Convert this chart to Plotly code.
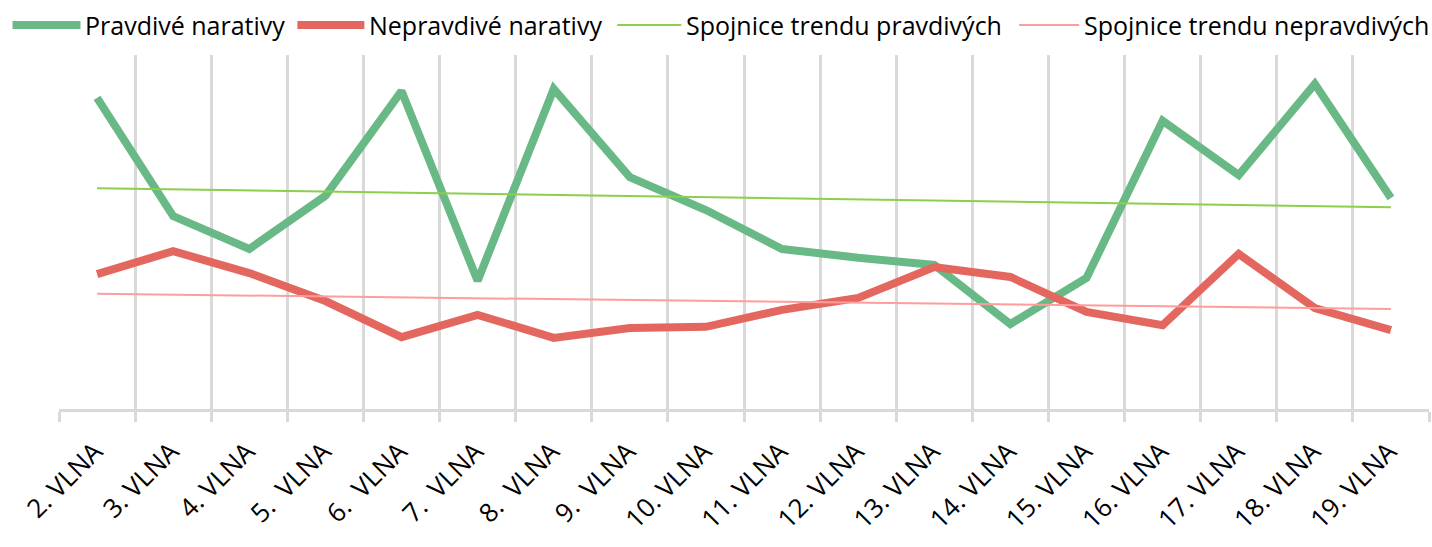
import numpy as np
import plotly.graph_objects as go

NB = "\u00a0"
categories = ["2. VLNA", "3. VLNA", "4. VLNA", "5." + NB * 2 + "VLNA", "6." + NB * 2 + "VLNA",
              "7." + NB * 2 + "VLNA", "8." + NB * 2 + "VLNA", "9." + NB * 2 + "VLNA",
              "10. VLNA", "11. VLNA", "12. VLNA", "13. VLNA", "14. VLNA", "15. VLNA",
              "16. VLNA", "17. VLNA", "18. VLNA", "19. VLNA"]
pravdive = [87.9, 54.5, 45.2, 60.2, 89.8, 36.2, 90.4, 65.5, 56.2, 45.2, 42.7, 40.7, 24.0, 37.0, 81.4, 66.1, 91.8, 59.6]
nepravdive = [38.1, 44.6, 38.4, 30.5, 20.3, 26.6, 20.1, 22.9, 23.2, 28.0, 31.4, 40.1, 37.3, 27.4, 23.7, 43.8, 28.5, 22.3]
series_names = ["Pravdivé narativy", "Nepravdivé narativy",
                "Spojnice trendu pravdivých", "Spojnice trendu nepravdivých"]
series_colors = ["#69b986", "#e4675f", "#8ccf4d", "#ff9c9c"]
series_widths = [8, 8, 2, 2]

idx = np.arange(len(categories))
tp = np.polyval(np.polyfit(idx, pravdive, 1), idx)
tn = np.polyval(np.polyfit(idx, nepravdive, 1), idx)

W, H = 1432, 547
ML, MR, MT, MB = 58.5, 3, 55, 138
PW, PH = W - ML - MR, H - MT - MB

def px_to_paper_x(px):
    return (px - ML) / PW

def py_to_paper_y(py):
    return (H - MB - py) / PH

FONT = "Open Sans"
fig = go.Figure()
for name, ys, col, wd in zip(series_names, [pravdive, nepravdive, tp, tn], series_colors, series_widths):
    fig.add_trace(go.Scatter(x=categories, y=ys, mode="lines", name=name,
                             line=dict(color=col, width=wd), showlegend=False))

# manual legend (one row, like the reference)
leg_line_x = [(12, 80), (297, 364), (617, 681), (1019, 1079)]
leg_y = 25
for (x0, x1), name, col, wd in zip(leg_line_x, series_names, series_colors, series_widths):
    fig.add_shape(type="line", xref="paper", yref="paper",
                  x0=px_to_paper_x(x0), x1=px_to_paper_x(x1),
                  y0=py_to_paper_y(leg_y), y1=py_to_paper_y(leg_y),
                  line=dict(color=col, width=wd))
    fig.add_annotation(xref="paper", yref="paper", x=px_to_paper_x(x1 + 3), y=py_to_paper_y(leg_y),
                       text=name, showarrow=False, xanchor="left", yanchor="middle",
                       font=dict(size=25, color="black", family=FONT))

fig.update_layout(
    width=W, height=H,
    margin=dict(l=ML, r=MR, t=MT, b=MB, autoexpand=False),
    paper_bgcolor="white", plot_bgcolor="white",
    font=dict(family=FONT, size=22, color="black"),
    showlegend=False,
    xaxis=dict(type="category", range=[-0.5, 17.5], tickson="boundaries", showgrid=True,
               gridcolor="#d9d9d9", gridwidth=2.5, ticks="outside", ticklen=10, tickwidth=2.5,
               tickcolor="#d9d9d9", showline=True, linecolor="#d9d9d9", linewidth=3,
               tickangle=-45, tickfont=dict(size=26), zeroline=False, automargin=False,
               ticklabelstandoff=14, ticklabelshift=-2),
    yaxis=dict(range=[0, 100], showgrid=False, showticklabels=False, zeroline=False,
               showline=False, ticks="", automargin=False),
)
fig.write_html("out.html", config={"displayModeBar": False},
               post_script="document.body.style.margin='0';document.body.style.overflow='hidden';")
